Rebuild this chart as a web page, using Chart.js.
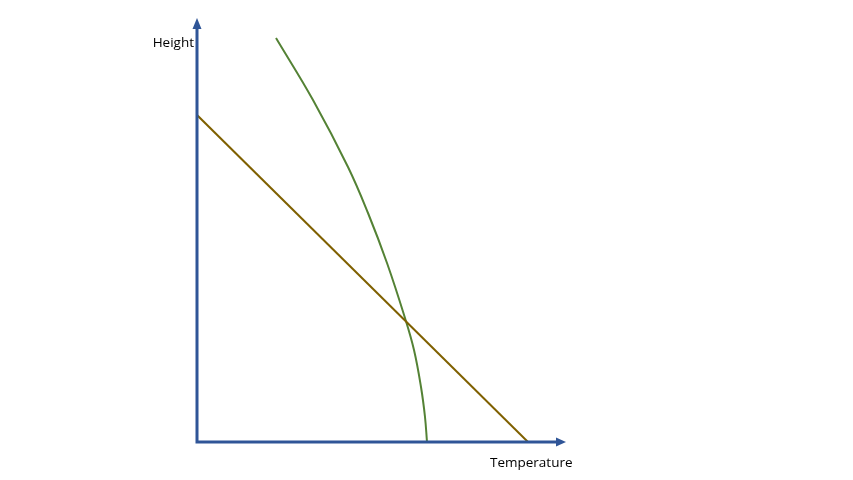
<!DOCTYPE html>
<html>
<head>
<meta charset="utf-8">
<script src="https://cdn.jsdelivr.net/npm/chart.js@4"></script>
<style>
  body { margin: 0; background: #fff; }
  canvas { display: block; }
</style>
</head>
<body>
<canvas id="chart" width="853" height="480"></canvas>
<script>
// curve (green)
const curveTemp = [79, 116, 151, 171, 190, 208, 217, 224, 228, 230]
const curveHeight = [404, 342, 275, 229, 179, 124, 92, 55, 25, 0]
// straight line (brown)
const lineTemp = [0, 331]
const lineHeight = [327, 0]

const xLabel = "Temperature"
const yLabel = "Height"

function toPoints(xs, ys) {
    return xs.map((x, i) => ({ x: x, y: ys[i] }))
}

const axisArrows = {
    id: "axisArrows",
    afterDatasetsDraw(chart) {
        const ctx = chart.ctx
        const a = chart.chartArea
        ctx.save()
        ctx.strokeStyle = "#2F5597"
        ctx.fillStyle = "#2F5597"
        ctx.lineWidth = 3
        ctx.beginPath()
        ctx.moveTo(a.left, a.top + 8)
        ctx.lineTo(a.left, a.bottom)
        ctx.lineTo(a.right - 8, a.bottom)
        ctx.stroke()
        // arrow heads
        ctx.beginPath()
        ctx.moveTo(a.left, a.top - 2)
        ctx.lineTo(a.left - 4.5, a.top + 9)
        ctx.lineTo(a.left + 4.5, a.top + 9)
        ctx.closePath()
        ctx.fill()
        ctx.beginPath()
        ctx.moveTo(a.right + 1, a.bottom)
        ctx.lineTo(a.right - 9, a.bottom - 4.5)
        ctx.lineTo(a.right - 9, a.bottom + 4.5)
        ctx.closePath()
        ctx.fill()
        // labels
        ctx.fillStyle = "#000"
        ctx.font = "13.5px 'Open Sans', sans-serif"
        ctx.textBaseline = "middle"
        ctx.textAlign = "right"
        ctx.fillText(yLabel, a.left - 3, 43)
        ctx.textAlign = "left"
        ctx.fillText(xLabel, 490, 463)
        ctx.restore()
    }
}

new Chart(document.querySelector("#chart"), {
    type: "scatter",
    data: {
        datasets: [{
            data: toPoints(lineTemp, lineHeight),
            showLine: true,
            borderColor: "#7F6000",
            borderWidth: 2,
            pointRadius: 0
        }, {
            data: toPoints(curveTemp, curveHeight),
            showLine: true,
            borderColor: "#548235",
            borderWidth: 2,
            pointRadius: 0,
            tension: 0.4
        }]
    },
    options: {
        responsive: false,
        animation: false,
        devicePixelRatio: 1,
        layout: { padding: { left: 197, right: 288, top: 20, bottom: 38 } },
        plugins: { legend: { display: false }, tooltip: { enabled: false } },
        scales: {
            x: { type: "linear", min: 0, max: 368, display: false },
            y: { type: "linear", min: 0, max: 422, display: false }
        }
    },
    plugins: [axisArrows]
})
</script>
</body>
</html>
